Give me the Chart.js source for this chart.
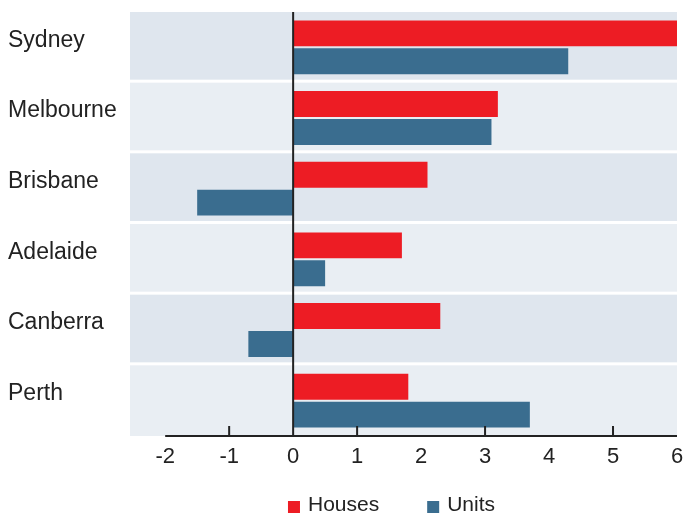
<!DOCTYPE html>
<html>
<head>
<meta charset="utf-8">
<script src="https://cdn.jsdelivr.net/npm/chart.js@4"></script>
<style>
  html, body { margin: 0; padding: 0; background: #fff; }
</style>
</head>
<body>
<canvas id="chart" width="685" height="514"></canvas>
<script>
const cities = ["Sydney", "Melbourne", "Brisbane", "Adelaide", "Canberra", "Perth"];
const houses = [6.0, 3.2, 2.1, 1.7, 2.3, 1.8];
const units = [4.3, 3.1, -1.5, 0.5, -0.7, 3.7];
const tickValues = [-2, -1, 0, 1, 2, 3, 4, 5, 6];
const axisMarks = [-1, 1, 3, 5];
const xMin = -2.55;
const xMax = 6;

Chart.defaults.font.family = "'Liberation Sans', Arial, Helvetica, sans-serif";
Chart.defaults.color = "#222";

// alternating row bands behind the bars
const rowBands = {
  id: "rowBands",
  beforeDatasetsDraw(chart) {
    const { ctx, chartArea, scales } = chart;
    const n = cities.length;
    const h = scales.y.height / n;
    ctx.save();
    for (let i = 0; i < n; i++) {
      const top = scales.y.top + i * h;
      const bandH = i === n - 1 ? h : h - 3;
      ctx.fillStyle = i % 2 === 0 ? "#dfe6ee" : "#e9eef3";
      ctx.fillRect(chartArea.left, top, chartArea.right - chartArea.left, bandH);
    }
    ctx.restore();
  }
};

// zero line and bottom axis with small upward ticks
const axisLines = {
  id: "axisLines",
  afterDatasetsDraw(chart) {
    const { ctx, chartArea, scales } = chart;
    const x = scales.x;
    ctx.save();
    ctx.strokeStyle = "#222";
    ctx.lineWidth = 2;
    ctx.beginPath();
    ctx.moveTo(x.getPixelForValue(0), chartArea.top);
    ctx.lineTo(x.getPixelForValue(0), chartArea.bottom);
    ctx.moveTo(x.getPixelForValue(tickValues[0]), chartArea.bottom);
    ctx.lineTo(chartArea.right, chartArea.bottom);
    axisMarks.forEach((v) => {
      const px = x.getPixelForValue(v);
      ctx.moveTo(px, chartArea.bottom - 10);
      ctx.lineTo(px, chartArea.bottom);
    });
    ctx.stroke();
    ctx.restore();
  }
};

// simple legend under the axis: square, label, wide gap
const bottomLegend = {
  id: "bottomLegend",
  afterDraw(chart) {
    const { ctx, chartArea } = chart;
    const sets = chart.data.datasets;
    ctx.save();
    ctx.font = "21px 'Liberation Sans', Arial, sans-serif";
    ctx.textBaseline = "middle";
    ctx.fillStyle = "#222";
    const widths = sets.map((d) => 12 + 8 + ctx.measureText(d.label).width);
    const total = widths.reduce((a, b) => a + b, 0) + 48 * (sets.length - 1);
    let x = (chartArea.left + chartArea.right) / 2 - 12 - total / 2;
    const y = 505;
    sets.forEach((d, i) => {
      ctx.fillStyle = d.backgroundColor;
      ctx.fillRect(x, y - 4, 12, 12);
      ctx.fillStyle = "#222";
      ctx.fillText(d.label, x + 20, y);
      x += widths[i] + 48;
    });
    ctx.restore();
  }
};

new Chart(document.getElementById("chart"), {
  type: "bar",
  data: {
    labels: cities,
    datasets: [
      {
        label: "Houses",
        data: houses,
        backgroundColor: "#ed1c24",
        categoryPercentage: 0.79,
        barPercentage: 0.93,
      },
      {
        label: "Units",
        data: units,
        backgroundColor: "#3a6d8f",
        categoryPercentage: 0.79,
        barPercentage: 0.93,
      },
    ],
  },
  options: {
    indexAxis: "y",
    responsive: false,
    animation: false,
    layout: {
      padding: { left: 8, right: 8, top: 12, bottom: 28 },
    },
    scales: {
      x: {
        min: xMin,
        max: xMax,
        grid: { display: false, drawTicks: false },
        border: { display: false },
        afterBuildTicks: (scale) => {
          scale.ticks = tickValues.map((v) => ({ value: v }));
        },
        afterFit: (scale) => {
          scale.height = 50;
          scale.paddingLeft = 0;
          scale.paddingRight = 0;
        },
        ticks: {
          font: { size: 22 },
          color: "#222",
          padding: 8,
          maxRotation: 0,
          autoSkip: false,
        },
      },
      y: {
        grid: { display: false, drawTicks: false },
        border: { display: false },
        afterFit: (scale) => {
          scale.width = 122;
          scale.paddingTop = 0;
          scale.paddingBottom = 0;
        },
        ticks: {
          font: { size: 23 },
          color: "#222",
          crossAlign: "far",
          labelOffset: -7,
        },
      },
    },
    plugins: {
      legend: { display: false },
      tooltip: { enabled: false },
    },
  },
  plugins: [rowBands, axisLines, bottomLegend],
});
</script>
</body>
</html>
